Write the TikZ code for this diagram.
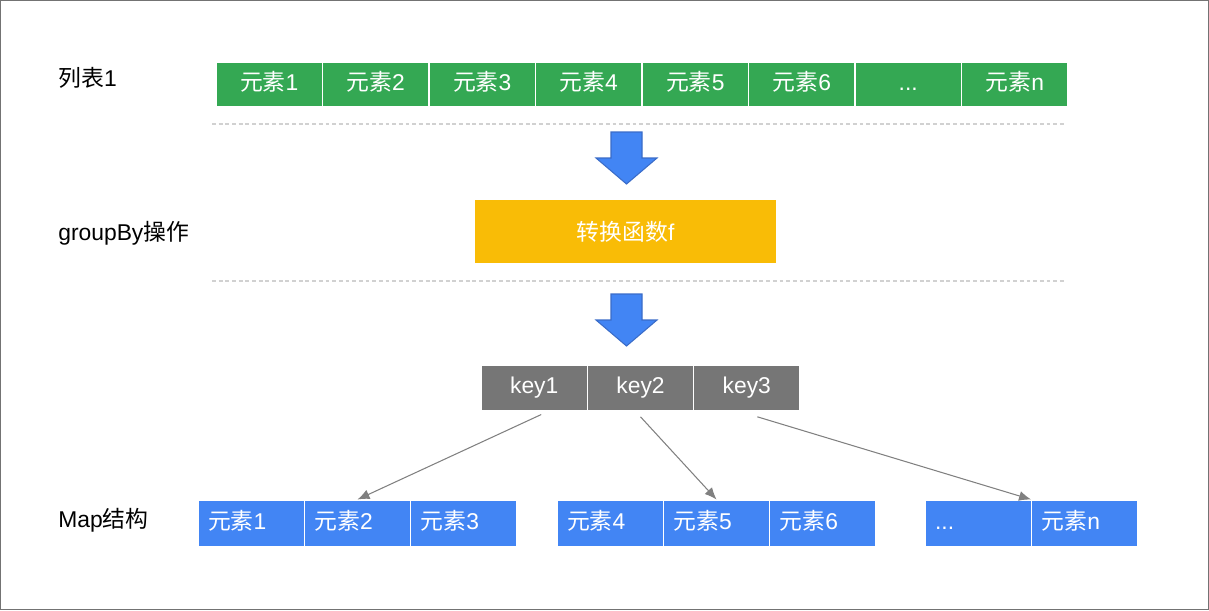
\documentclass[tikz,border=0pt]{standalone}
\usepackage{fontspec}
\setmainfont{Liberation Sans}
\newfontfamily\cjk{Noto Sans CJK SC}
\usetikzlibrary{arrows.meta}
\definecolor{listgreen}{HTML}{34A853}
\definecolor{funcyellow}{HTML}{F9BC06}
\definecolor{keygray}{HTML}{767676}
\definecolor{mapblue}{HTML}{4285F4}
\definecolor{arrowedge}{HTML}{3A6CC8}
\tikzset{
  every node/.style={font=\fontsize{13}{15}\selectfont},
  cell/.style={draw=white, line width=0.6pt, text=white, text height=10pt, text depth=3.5pt},
  gcell/.style={cell, fill=listgreen, minimum width=2.13cm, minimum height=0.9cm, inner sep=0pt},
  keycell/.style={cell, fill=keygray, minimum width=2.127cm, minimum height=0.92cm, inner sep=0pt},
  mapcell/.style={cell, fill=mapblue, minimum height=0.94cm, text width=1.727cm,
    inner xsep=0.2cm, inner ysep=0pt, align=left},
  funcbox/.style={fill=funcyellow, text=white, minimum width=6.02cm, minimum height=1.26cm},
  sidelabel/.style={anchor=west, inner sep=0pt},
  link/.style={draw=black!50, line width=0.6pt, -{Latex[length=2.4mm,width=2mm]}},
  bigarrow/.pic={
    \draw[fill=mapblue, draw=arrowedge, line width=0.6pt]
      (-15.5,0) -- (15.5,0) -- (15.5,26) -- (30.5,26) -- (0,52)
      -- (-30.5,26) -- (-15.5,26) -- cycle;
  }
}
\begin{document}
\begin{tikzpicture}[x=0.02cm, y=-0.02cm]
      \useasboundingbox (0,0) rectangle (1209,610);
      \draw[black!55, line width=0.8pt] (0.5,0.5) rectangle (1208.5,609.5);

      % side labels
      \node[sidelabel] (lab1) at (58,78) {{\cjk 列表}1};
      \node[sidelabel] (lab2) at (58,233) {groupBy{\cjk 操作}};
      \node[sidelabel] (lab3) at (58,520) {Map{\cjk 结构}};

      % list 1
      \node[gcell] (g1) at (269.25,84.5) {{\cjk 元素}1};
      \node[gcell] (g2) at (375.75,84.5) {{\cjk 元素}2};
      \node[gcell] (g3) at (482.25,84.5) {{\cjk 元素}3};
      \node[gcell] (g4) at (588.75,84.5) {{\cjk 元素}4};
      \node[gcell] (g5) at (695.25,84.5) {{\cjk 元素}5};
      \node[gcell] (g6) at (801.75,84.5) {{\cjk 元素}6};
      \node[gcell] (g7) at (908.25,84.5) {...};
      \node[gcell] (g8) at (1014.75,84.5) {{\cjk 元素}n};

      \draw[black!18, line width=0.6pt, dash pattern=on 2.2pt off 1.6pt] (212,124) -- (1066,124);
      \pic at (626.5,132) {bigarrow};

      % groupBy
      \node[funcbox] (f) at (625.5,231.5) {{\cjk 转换函数}f};

      \draw[black!18, line width=0.6pt, dash pattern=on 2.2pt off 1.6pt] (212,281) -- (1066,281);
      \pic at (626.5,294) {bigarrow};

      % keys
      \node[keycell] (k1) at (534.2,388) {key1};
      \node[keycell] (k2) at (640.5,388) {key2};
      \node[keycell] (k3) at (746.8,388) {key3};

      % map
      \node[mapcell] (m1) at (251.2,523.5) {{\cjk 元素}1};
      \node[mapcell] (m2) at (357.5,523.5) {{\cjk 元素}2};
      \node[mapcell] (m3) at (463.8,523.5) {{\cjk 元素}3};
      \node[mapcell] (m4) at (610.2,523.5) {{\cjk 元素}4};
      \node[mapcell] (m5) at (716.5,523.5) {{\cjk 元素}5};
      \node[mapcell] (m6) at (822.8,523.5) {{\cjk 元素}6};
      \node[mapcell] (m7) at (978.25,523.5) {...};
      \node[mapcell] (m8) at (1084.75,523.5) {{\cjk 元素}n};

      \begin{scope}[link]
        \draw ([xshift=4]k1.south) ++(0,3) to (m2.north);
        \draw ([yshift=-3]k2.south) to (m5.north);
        \draw ([xshift=6,yshift=-3]k3.south) to (m8.north west);
      \end{scope}
    \end{tikzpicture}
\end{document}
